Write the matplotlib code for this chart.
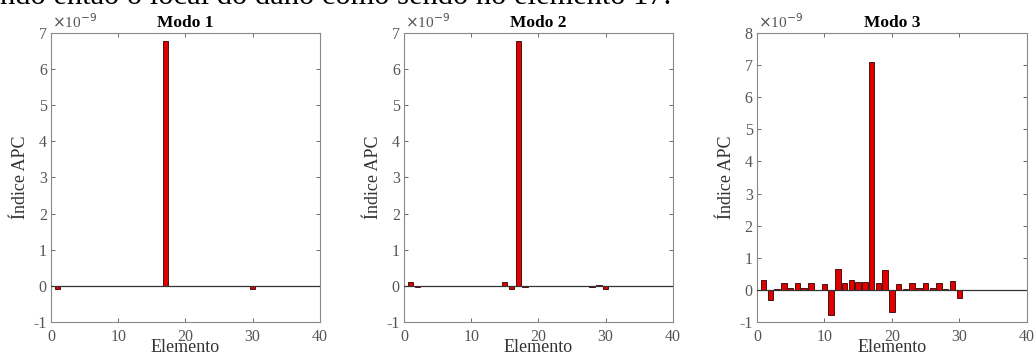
import numpy as np
import matplotlib.pyplot as plt

plt.rcParams['font.family'] = ['Liberation Serif', 'DejaVu Serif']
plt.rcParams['axes.unicode_minus'] = False

# Elementos 1..30, indice APC em unidades de 1e-9
elementos = np.arange(1, 31)

modo1 = [-0.08, 0.01, 0.01, 0, 0, 0, 0, 0, 0, 0,
         0, 0, 0, 0, 0, 0, 6.78, 0, 0, 0,
         0, 0, 0, 0, 0, 0, 0, -0.01, 0.01, -0.10]

modo2 = [0.10, -0.03, 0.01, -0.01, -0.01, -0.01, -0.01, -0.01, -0.01, -0.01,
         0.01, -0.01, 0.01, -0.01, 0.10, -0.10, 6.78, -0.02, -0.01, -0.01,
         -0.01, -0.01, -0.01, -0.01, 0.01, -0.01, 0.01, -0.02, 0.02, -0.10]

modo3 = [0.30, -0.30, 0.02, 0.20, 0.05, 0.20, 0.07, 0.20, 0.01, 0.18,
         -0.78, 0.66, 0.20, 0.30, 0.25, 0.25, 7.10, 0.20, 0.62, -0.68,
         0.18, 0.02, 0.20, 0.07, 0.20, 0.07, 0.20, 0.02, 0.27, -0.25]

titulos = ['Modo 1', 'Modo 2', 'Modo 3']
ymax = [7, 7, 8]

fig = plt.figure(figsize=(10.34, 3.56), dpi=100)
posicoes = [[0.0493, 0.0955, 0.260, 0.812],
            [0.3907, 0.0955, 0.260, 0.812],
            [0.7320, 0.0955, 0.261, 0.812]]

cinza = '#555555'
for pos, dados, titulo, ym in zip(posicoes, [modo1, modo2, modo3], titulos, ymax):
    ax = fig.add_axes(pos)
    ax.bar(elementos, dados, width=0.8, color='#e00000',
           edgecolor='#300000', linewidth=0.6, zorder=2)
    ax.axhline(0, color='#333333', linewidth=0.9, zorder=3)
    ax.set_xlim(0, 40)
    ax.set_ylim(-1, ym)
    ax.set_xticks([0, 10, 20, 30, 40])
    ax.set_yticks(np.arange(-1, ym + 1))
    ax.tick_params(direction='in', top=True, right=True, colors=cinza,
                   labelsize=11.5, length=3, width=0.6)
    ax.tick_params(axis='x', pad=5)
    ax.tick_params(axis='y', pad=3)
    for s in ax.spines.values():
        s.set_color('#888888')
        s.set_linewidth(0.8)
    # fator de escala no canto superior esquerdo, estilo MATLAB
    ax.text(0.005, 1.008, r'$\times$10$^{-9}$', transform=ax.transAxes,
            fontsize=11, color=cinza, ha='left', va='bottom')
    ax.set_title(titulo, fontsize=12.5, fontweight='bold', pad=4)
    ax.set_xlabel('Elemento', fontsize=13, color='#333333', va='bottom')
    ax.xaxis.set_label_coords(0.5, (0 - 34) / 289)
    ax.set_ylabel('Índice APC', fontsize=13, color='#333333', labelpad=3)

# linha de texto do documento, cortada na borda superior
fig.text(0.0, 1 - 4 / 356, 'ndo então o local do dano como sendo no elemento 17.',
         fontsize=22, ha='left', va='baseline')

fig.savefig('out.png', dpi=100)
